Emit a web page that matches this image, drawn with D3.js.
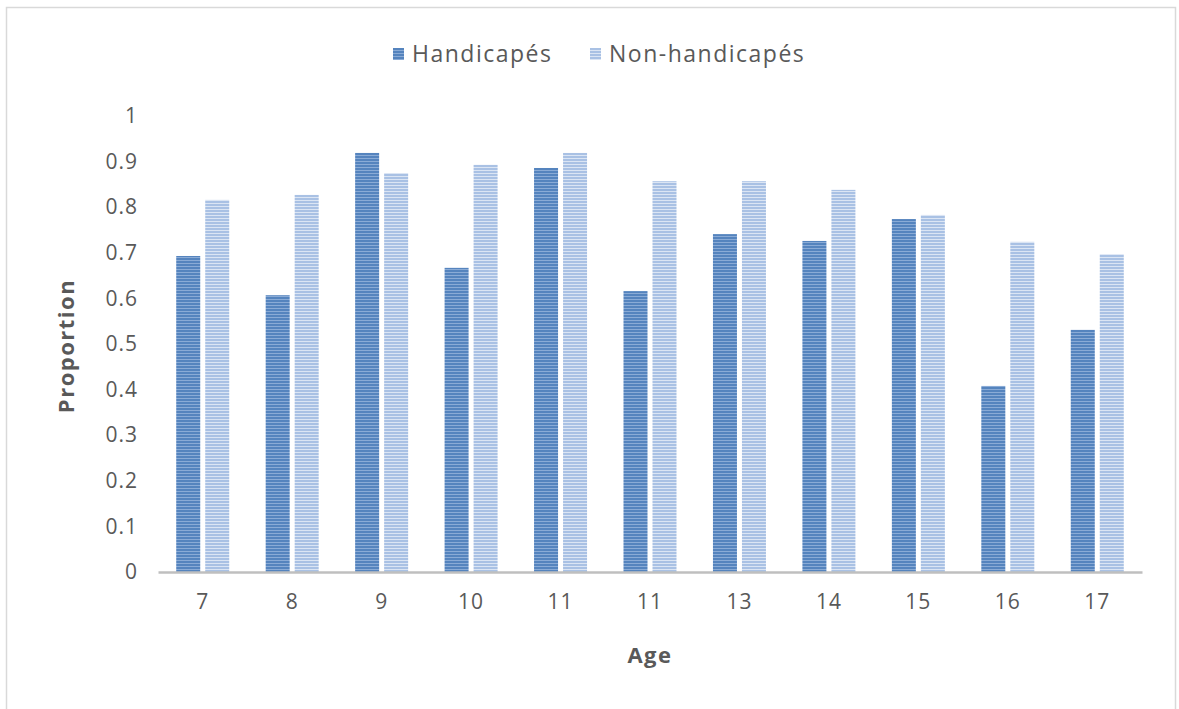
<!DOCTYPE html>
<html>
<head>
<meta charset="utf-8">
<script src="https://cdn.jsdelivr.net/npm/d3@7"></script>
<style>
  body { margin: 0; background: #fff; }
  text { font-family: "Open Sans", "DejaVu Sans", sans-serif; fill: #595959; }
</style>
</head>
<body>
<div id="chart"></div>
<script>
// ---- data
const ages = ['7', '8', '9', '10', '11', '11 ', '13', '14', '15', '16', '17'];
const handicapes = [0.693, 0.607, 0.919, 0.667, 0.886, 0.616, 0.741, 0.726, 0.774, 0.408, 0.531];
const nonHandicapes = [0.816, 0.827, 0.875, 0.893, 0.919, 0.857, 0.857, 0.838, 0.783, 0.724, 0.697];
const seriesNames = ['Handicapés', 'Non-handicapés'];
const yTicks = [0, 0.1, 0.2, 0.3, 0.4, 0.5, 0.6, 0.7, 0.8, 0.9, 1];

const width = 1179, height = 709;
const plotLeft = 158, plotRight = 1142, plotTop = 116, plotBottom = 572;

const svg = d3.select('#chart').append('svg')
  .attr('width', width)
  .attr('height', height);

// striped fills
const defs = svg.append('defs');
const fills = [
  { id: 'stripeDark', bg: '#8aabd6', line: '#5584be' },
  { id: 'stripeLight', bg: '#dbe5f4', line: '#a9c1e4' }
];
fills.forEach(f => {
  const p = defs.append('pattern')
    .attr('id', f.id)
    .attr('patternUnits', 'userSpaceOnUse')
    .attr('width', 6).attr('height', 3);
  p.append('rect').attr('width', 6).attr('height', 3).attr('fill', f.bg);
  p.append('rect').attr('width', 6).attr('height', 2).attr('fill', f.line);
});

// outer frame
svg.append('rect')
  .attr('x', 6.5).attr('y', 7.5)
  .attr('width', 1169).attr('height', 720)
  .attr('fill', 'none')
  .attr('stroke', '#d9d9d9')
  .attr('stroke-width', 1.5);

const x = d3.scaleBand().domain(ages).range([plotLeft, plotRight]).paddingInner(0).paddingOuter(0);
const y = d3.scaleLinear().domain([0, 1]).range([plotBottom, plotTop]);

const barW = 24, gap = 5;
const xs = d3.scaleOrdinal().domain(seriesNames)
  .range([x.bandwidth() / 2 - barW - gap / 2, x.bandwidth() / 2 + gap / 2]);

const rows = ages.map((a, i) => ({ age: a, values: [handicapes[i], nonHandicapes[i]] }));

const groups = svg.append('g').selectAll('g')
  .data(rows)
  .join('g')
    .attr('transform', d => 'translate(' + x(d.age) + ',0)');

groups.selectAll('rect')
  .data(d => d.values.map((v, k) => ({ name: seriesNames[k], v: v, k: k })))
  .join('rect')
    .attr('x', d => xs(d.name))
    .attr('y', d => y(d.v))
    .attr('width', barW)
    .attr('height', d => y(0) - y(d.v))
    .attr('fill', d => 'url(#' + fills[d.k].id + ')');

// x axis
const xAxis = svg.append('g')
  .attr('transform', 'translate(0,' + plotBottom + ')')
  .call(d3.axisBottom(x).tickSize(0).tickPadding(22).tickFormat(d => d.trim()));
xAxis.select('.domain').attr('stroke', '#bfbfbf').attr('stroke-width', 2.5);
xAxis.selectAll('text')
  .style('font-size', '21px')
  .style('letter-spacing', '1px')
  .style('font-family', '"Open Sans", sans-serif')
  .attr('fill', '#595959');

// y axis
const yAxis = svg.append('g')
  .attr('transform', 'translate(' + (plotLeft - 20) + ',0)')
  .call(d3.axisLeft(y).tickValues(yTicks).tickSize(0).tickPadding(0).tickFormat(d3.format('')));
yAxis.select('.domain').remove();
yAxis.selectAll('text')
  .style('font-size', '21px')
  .style('letter-spacing', '1px')
  .style('font-family', '"Open Sans", sans-serif')
  .attr('fill', '#595959');

// axis titles
svg.append('text')
  .attr('x', (plotLeft + plotRight) / 2).attr('y', 663)
  .attr('text-anchor', 'middle')
  .style('font-size', '22px')
  .style('letter-spacing', '1.5px')
  .style('font-weight', 'bold')
  .text('Age');

svg.append('text')
  .attr('transform', 'translate(74,346) rotate(-90)')
  .attr('text-anchor', 'middle')
  .style('font-size', '22px')
  .style('letter-spacing', '1.5px')
  .style('font-weight', 'bold')
  .text('Proportion');

// legend
const legendX = [393, 590];
const legend = svg.append('g').selectAll('g')
  .data(seriesNames)
  .join('g')
    .attr('transform', (d, i) => 'translate(' + legendX[i] + ',54)');
legend.append('rect')
  .attr('x', 0).attr('y', -6)
  .attr('width', 11).attr('height', 12)
  .attr('fill', (d, i) => 'url(#' + fills[i].id + ')');
legend.append('text')
  .attr('x', 19).attr('y', 0)
  .attr('dy', '0.35em')
  .style('font-size', '23px')
  .style('letter-spacing', '1.5px')
  .text(d => d);
</script>
</body>
</html>
